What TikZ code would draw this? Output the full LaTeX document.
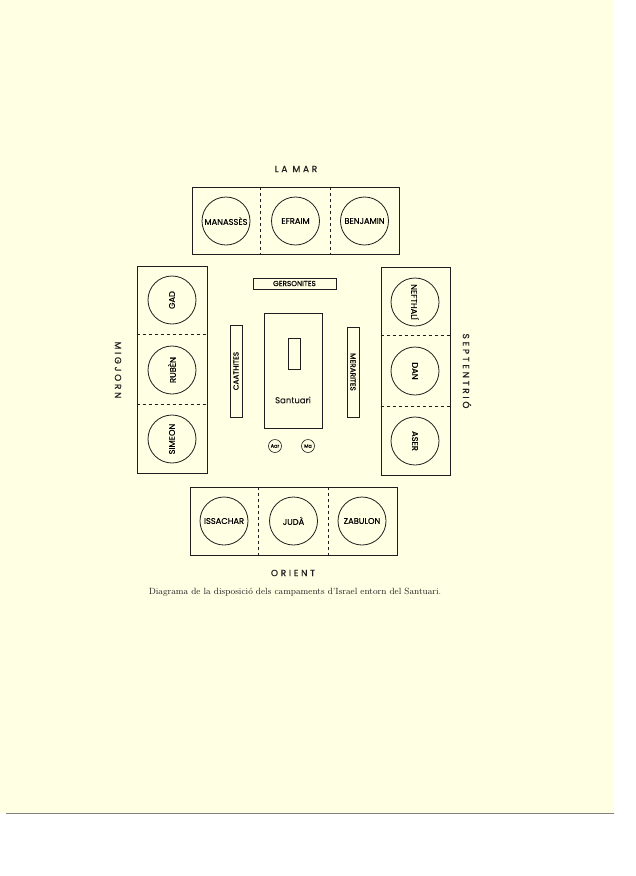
\documentclass[tikz,border=0pt]{standalone}
\usepackage{fontspec}
\usepackage{tikz}
\usetikzlibrary{shapes,positioning,calc}
\newfontfamily\campfont[FakeBold=0.4]{Poppins}
\newfontfamily\sidefont[LetterSpace=30,FakeBold=0.4]{Poppins}
\definecolor{paper}{RGB}{255,255,228}
\definecolor{ink}{RGB}{30,30,30}
\tikzset{
    camp/.style={rectangle, draw=ink, line width=0.9pt, inner sep=0pt},
    tribe/.style={circle, draw=ink, line width=0.8pt, minimum size=48pt, inner sep=0pt, font=\campfont\fontsize{8.3}{9}\selectfont},
    levite/.style={rectangle, draw=ink, line width=0.8pt, inner sep=0pt, font=\campfont\fontsize{7.3}{8}\selectfont},
    divider/.style={draw=ink, dashed, line width=0.8pt},
    side/.style={text=ink, font=\sidefont\fontsize{9}{10}\selectfont},
    priest/.style={circle, draw=ink, line width=0.6pt, minimum size=13pt, inner sep=0pt, font=\campfont\fontsize{5}{5}\selectfont}
}
\begin{document}
\begin{tikzpicture}[x=1pt, y=-1pt]
    % Page
    \useasboundingbox (0,0) rectangle (636,876);
    \fill[white] (0,0) rectangle (636,876);
    \fill[paper] (0,0) rectangle (614,813);
    \draw[gray, line width=0.6pt] (6,813) -- (614,813);

    % Camps
    \node [camp, minimum width=207pt, minimum height=67pt] (lamar) at (295.5,220.5) {};
    \node [camp, minimum width=70pt, minimum height=207pt] (migjorn) at (172,369.5) {};
    \node [camp, minimum width=69pt, minimum height=208pt] (septentrio) at (415.5,371) {};
    \node [camp, minimum width=207pt, minimum height=68pt] (orient) at (293.5,521) {};

    \draw [divider] ([xshift=69pt]lamar.north west) -- ([xshift=69pt]lamar.south west);
    \draw [divider] ([xshift=-69pt]lamar.north east) -- ([xshift=-69pt]lamar.south east);
    \draw [divider] ([yshift=-69pt]migjorn.north west) -- ([yshift=-69pt]migjorn.north east);
    \draw [divider] ([yshift=69pt]migjorn.south west) -- ([yshift=69pt]migjorn.south east);
    \draw [divider] ([yshift=-69pt]septentrio.north west) -- ([yshift=-69pt]septentrio.north east);
    \draw [divider] ([yshift=69pt]septentrio.south west) -- ([yshift=69pt]septentrio.south east);
    \draw [divider] ([xshift=69pt]orient.north west) -- ([xshift=69pt]orient.south west);
    \draw [divider] ([xshift=-69pt]orient.north east) -- ([xshift=-69pt]orient.south east);

    % Tribes
    \node [tribe] (manasses) at (226,221) {MANASSÈS};
    \node [tribe] (efraim) at (295.5,221) {EFRAIM};
    \node [tribe] (benjamin) at (364.5,221) {BENJAMIN};
    \node [tribe, rotate=90] (gad) at (172,300) {GAD};
    \node [tribe, rotate=90] (ruben) at (172,370) {RUBÈN};
    \node [tribe, rotate=90] (simeon) at (172,439) {SIMEON};
    \node [tribe, rotate=-90] (nefthali) at (415,302) {NEFTHALÍ};
    \node [tribe, rotate=-90] (dan) at (415,371) {DAN};
    \node [tribe, rotate=-90] (aser) at (415,441) {ASER};
    \node [tribe] (issachar) at (224,521) {ISSACHAR};
    \node [tribe] (juda) at (293.5,521) {JUDÀ};
    \node [tribe] (zabulon) at (362,521) {ZABULON};

    % Levites and sanctuary
    \node [levite, minimum width=83pt, minimum height=11pt] (gersonites) at (294.5,283.5) {GERSONITES};
    \node [levite, rotate=90, minimum width=92pt, minimum height=12pt] (caathites) at (236,371) {CAATHITES};
    \node [levite, rotate=-90, minimum width=90pt, minimum height=12pt] (merarites) at (353,372) {MERARITES};
    \node [levite, minimum width=58pt, minimum height=115pt] (santuari) at (293,370.5) {};
    \node [levite, minimum width=12pt, minimum height=31pt] (arca) at (294,353.5) {};
    \node [text=ink, font=\campfont\fontsize{8.5}{9}\selectfont] (santuarilabel) at (293,400) {Santuari};
    \node [priest] (aaro) at (275,446) {Aar};
    \node [priest] (moises) at (308,446) {Ma};

    % Cardinal points
    \node [side] (nlamar) at (296,169) {LA MAR};
    \node [side] (norient) at (293,573) {ORIENT};
    \node [side, rotate=-90] (nmigjorn) at (118,370) {MIGJORN};
    \node [side, rotate=-90] (nseptentrio) at (467,371) {SEPTENTRIÓ};

    % Caption
    \node [text=ink, font=\fontsize{9}{10}\selectfont] (caption) at (295,592) {Diagrama de la disposició dels campaments d'Israel entorn del Santuari.};
\end{tikzpicture}
\end{document}
